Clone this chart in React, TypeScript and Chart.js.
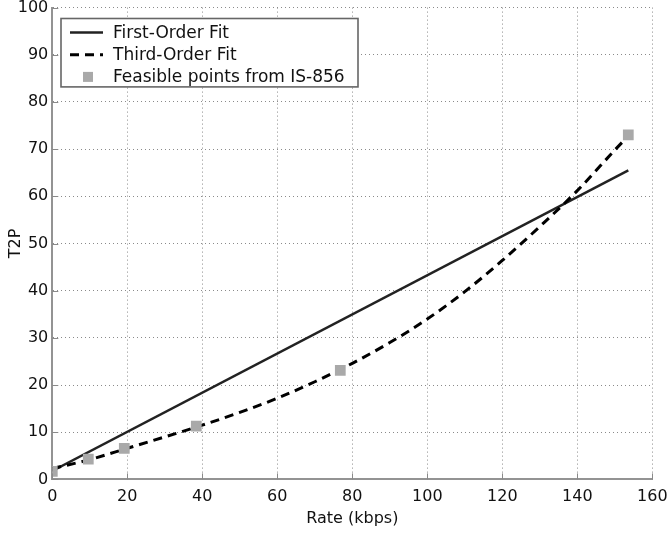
import React, { useEffect, useRef } from "react";
import { Chart, registerables } from "chart.js";

Chart.register(...registerables);

// Feasible points (IS-856 rates)
const rateKbps = [0, 9.6, 19.2, 38.4, 76.8, 153.6];
const feasibleT2P = [1.7, 4.3, 6.6, 11.3, 23.1, 73.0];

// First-order fit (straight line)
const firstOrderX = [0, 153.6];
const firstOrderY = [1.8, 65.5];

// Third-order fit
const thirdOrderX = [0, 10, 20, 30, 40, 50, 60, 70, 80, 90, 100, 110, 120, 130, 140, 150, 153.6];
const thirdOrderY = [2.3, 4.2, 6.6, 9.0, 11.5, 14.2, 17.2, 20.7, 24.6, 29.0, 34.0, 39.8, 46.4, 53.6, 61.2, 69.8, 72.8];

const seriesLabels = ["First-Order Fit", "Third-Order Fit", "Feasible points from IS-856"];

const xMin = 0, xMax = 160, xStep = 20;
const yMin = 0, yMax = 100, yStep = 10;

const FONT = '"DejaVu Sans", "Liberation Sans", Arial, sans-serif';

const inwardTicks = {
  id: "inwardTicks",
  afterDatasetsDraw(chart: any) {
    const ctx = chart.ctx;
    const xs = chart.scales.x;
    const ys = chart.scales.y;
    const { left, bottom } = chart.chartArea;
    ctx.save();
    ctx.strokeStyle = "#8a8a8a";
    ctx.lineWidth = 1;
    ctx.beginPath();
    xs.ticks.forEach((t: any) => {
      const px = Math.round(xs.getPixelForValue(t.value)) + 0.5;
      ctx.moveTo(px, bottom);
      ctx.lineTo(px, bottom - 6);
    });
    ys.ticks.forEach((t: any) => {
      const py = Math.round(ys.getPixelForValue(t.value)) + 0.5;
      ctx.moveTo(left, py);
      ctx.lineTo(left + 6, py);
    });
    ctx.stroke();
    ctx.restore();
  },
};

const insetLegend = {
  id: "insetLegend",
  afterDraw(chart: any) {
    const ctx = chart.ctx;
    const { left, top } = chart.chartArea;
    const bx = left + 8.7;
    const by = top + 10.9;
    const bw = 297;
    const bh = 68.4;
    ctx.save();
    ctx.fillStyle = "#ffffff";
    ctx.fillRect(bx, by, bw, bh);
    ctx.strokeStyle = "#666666";
    ctx.lineWidth = 1.6;
    ctx.strokeRect(bx, by, bw, bh);
    const ds = chart.data.datasets;
    const rowH = 22.2;
    ctx.font = `17px ${FONT}`;
    ctx.textBaseline = "middle";
    ctx.textAlign = "left";
    ds.forEach((d: any, i: number) => {
      const cy = by + 14 + i * rowH;
      const sx0 = bx + 9;
      const sx1 = bx + 42;
      if (d.showLine === false) {
        ctx.fillStyle = d.pointBackgroundColor;
        ctx.fillRect(bx + 27 - 5, cy - 5, 10, 10);
      } else {
        ctx.strokeStyle = d.borderColor;
        ctx.lineWidth = d.borderWidth;
        ctx.setLineDash(d.borderDash || []);
        ctx.beginPath();
        ctx.moveTo(sx0, cy);
        ctx.lineTo(sx1, cy);
        ctx.stroke();
        ctx.setLineDash([]);
      }
      ctx.fillStyle = "#111111";
      ctx.fillText(d.label, bx + 52, cy + 1);
    });
    ctx.restore();
  },
};

export default function App() {
  const canvasRef = useRef<HTMLCanvasElement | null>(null);

  useEffect(() => {
    if (!canvasRef.current) return;
    const chart = new Chart(canvasRef.current, {
      type: "scatter",
      data: {
        datasets: [
          {
            label: seriesLabels[0],
            data: firstOrderX.map((x, i) => ({ x, y: firstOrderY[i] })),
            showLine: true,
            borderColor: "#222222",
            borderWidth: 2.5,
            pointRadius: 0,
            order: 2,
          } as any,
          {
            label: seriesLabels[1],
            data: thirdOrderX.map((x, i) => ({ x, y: thirdOrderY[i] })),
            showLine: true,
            borderColor: "#000000",
            borderWidth: 3,
            borderDash: [9, 6],
            cubicInterpolationMode: "monotone",
            pointRadius: 0,
            order: 1,
          } as any,
          {
            label: seriesLabels[2],
            data: rateKbps.map((x, i) => ({ x, y: feasibleT2P[i] })),
            showLine: false,
            pointStyle: "rect",
            pointRadius: 7.6,
            pointBackgroundColor: "#a9a9a9",
            pointBorderWidth: 0,
            borderColor: "#a9a9a9",
            order: 0,
          } as any,
        ],
      },
      options: {
        animation: false,
        responsive: true,
        maintainAspectRatio: false,
        layout: { padding: { top: 7.4, right: 15.7, left: 0, bottom: 0 } },
        plugins: {
          legend: { display: false },
          tooltip: { enabled: false },
        },
        scales: {
          x: {
            type: "linear",
            min: xMin,
            max: xMax,
            ticks: {
              stepSize: xStep,
              color: "#111111",
              padding: 7.5,
              font: { family: FONT, size: 16 },
              maxRotation: 0,
            },
            grid: {
              color: "#8a8a8a",
              lineWidth: 1,
              drawTicks: false,
            },
            border: { display: true, color: "#939393", width: 2, dash: [1, 3] },
            title: {
              display: true,
              text: "Rate (kbps)",
              color: "#111111",
              font: { family: FONT, size: 16 },
              padding: { top: 0, bottom: 6.4 },
            },
            afterFit(scale: any) {
              scale.height = 55.6;
              scale.paddingLeft = 0;
              scale.paddingRight = 0;
            },
          },
          y: {
            type: "linear",
            min: yMin,
            max: yMax,
            ticks: {
              stepSize: yStep,
              color: "#111111",
              padding: 4,
              font: { family: FONT, size: 16 },
            },
            grid: {
              color: "#8a8a8a",
              lineWidth: 1,
              drawTicks: false,
            },
            border: { display: true, color: "#939393", width: 2, dash: [1, 3] },
            title: {
              display: true,
              text: "T2P",
              color: "#111111",
              font: { family: FONT, size: 16 },
              padding: { top: 6.4, bottom: 0 },
            },
            afterFit(scale: any) {
              scale.width = 52.3;
              scale.paddingTop = 0;
              scale.paddingBottom = 0;
            },
          },
        },
      },
      plugins: [inwardTicks, insetLegend],
    });
    return () => chart.destroy();
  }, []);

  return (
    <div
      style={{
        position: "fixed",
        left: 0,
        top: 0,
        width: 668,
        height: 535,
        background: "#ffffff",
      }}
    >
      <canvas ref={canvasRef} />
    </div>
  );
}
